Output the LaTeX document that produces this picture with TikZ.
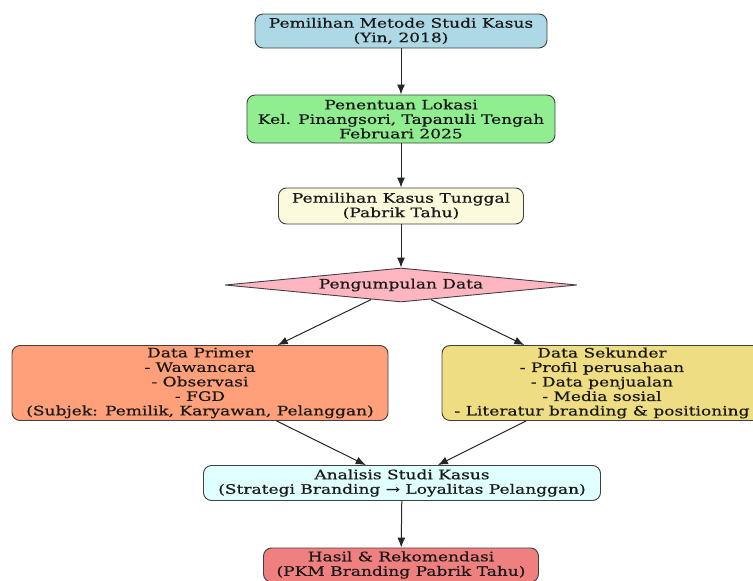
\documentclass[tikz,border=0pt]{standalone}
\usepackage{fontspec}
\setmainfont[FakeStretch=1.31,FakeBold=0.6]{DejaVu Serif}
\usetikzlibrary{shapes.geometric,arrows.meta}
\definecolor{metode-blue}{HTML}{ADD8E6}
\definecolor{lokasi-green}{HTML}{90EE90}
\definecolor{kasus-yellow}{HTML}{FCFADC}
\definecolor{data-pink}{HTML}{FFB6C1}
\definecolor{primer-salmon}{HTML}{FFA07A}
\definecolor{sekunder-gold}{HTML}{EEDD82}
\definecolor{analisis-cyan}{HTML}{E0FFFF}
\definecolor{hasil-coral}{HTML}{F08080}
\tikzset{
    flow-box/.style = {draw=black!75, line width=0.9pt, rectangle, rounded corners=8pt, align=center, inner sep=1pt, font=\fontsize{13}{14.5}\selectfont, text=black!90},
    flow-diamond/.style = {draw=black!75, line width=0.9pt, diamond, aspect=10, inner sep=0pt, font=\fontsize{13}{14.5}\selectfont, text=black!90},
    flow-arrow/.style = {-{Latex[length=10pt,width=8pt]}, line width=1pt, black!85},
}
\begin{document}
\begin{tikzpicture}[x=1pt,y=-1pt]
\useasboundingbox (0,0) rectangle (753,581);
\node [flow-box, fill=metode-blue, minimum width=292pt, minimum height=34pt] (metode) at (401,31) {Pemilihan Metode Studi Kasus\\(Yin, 2018)};
\node [flow-box, fill=lokasi-green, minimum width=308pt, minimum height=48pt] (lokasi) at (401,119) {Penentuan Lokasi\\Kel. Pinangsori, Tapanuli Tengah\\Februari 2025};
\node [flow-box, fill=kasus-yellow, minimum width=245pt, minimum height=36pt] (kasus) at (401,206) {Pemilihan Kasus Tunggal\\(Pabrik Tahu)};
\node [flow-diamond, fill=data-pink, minimum width=352pt, minimum height=34pt] (pengumpulan) at (401,285) {Pengumpulan Data};
\node [flow-box, fill=primer-salmon, minimum width=376pt, minimum height=75pt] (primer) at (200,383) {Data Primer\\- Wawancara\\- Observasi\\- FGD\\(Subjek: Pemilik, Karyawan, Pelanggan)};
\node [flow-box, fill=sekunder-gold, minimum width=320pt, minimum height=75pt] (sekunder) at (602,383) {Data Sekunder\\- Profil perusahaan\\- Data penjualan\\- Media sosial\\- Literatur branding \& positioning};
\node [flow-box, fill=analisis-cyan, minimum width=397pt, minimum height=35pt] (analisis) at (402,483) {Analisis Studi Kasus\\(Strategi Branding → Loyalitas Pelanggan)};
\node [flow-box, fill=hasil-coral, minimum width=275pt, minimum height=34pt] (hasil) at (401,565) {Hasil \& Rekomendasi\\(PKM Branding Pabrik Tahu)};

\draw [flow-arrow] (metode) -- (lokasi);
\draw [flow-arrow] (lokasi) -- (kasus);
\draw [flow-arrow] (kasus) -- (pengumpulan);
\draw [flow-arrow] (pengumpulan) -- (primer);
\draw [flow-arrow] (pengumpulan) -- (sekunder);
\draw [flow-arrow] (primer) -- (analisis);
\draw [flow-arrow] (sekunder) -- (analisis);
\draw [flow-arrow] (analisis) -- (hasil);
\end{tikzpicture}
\end{document}
